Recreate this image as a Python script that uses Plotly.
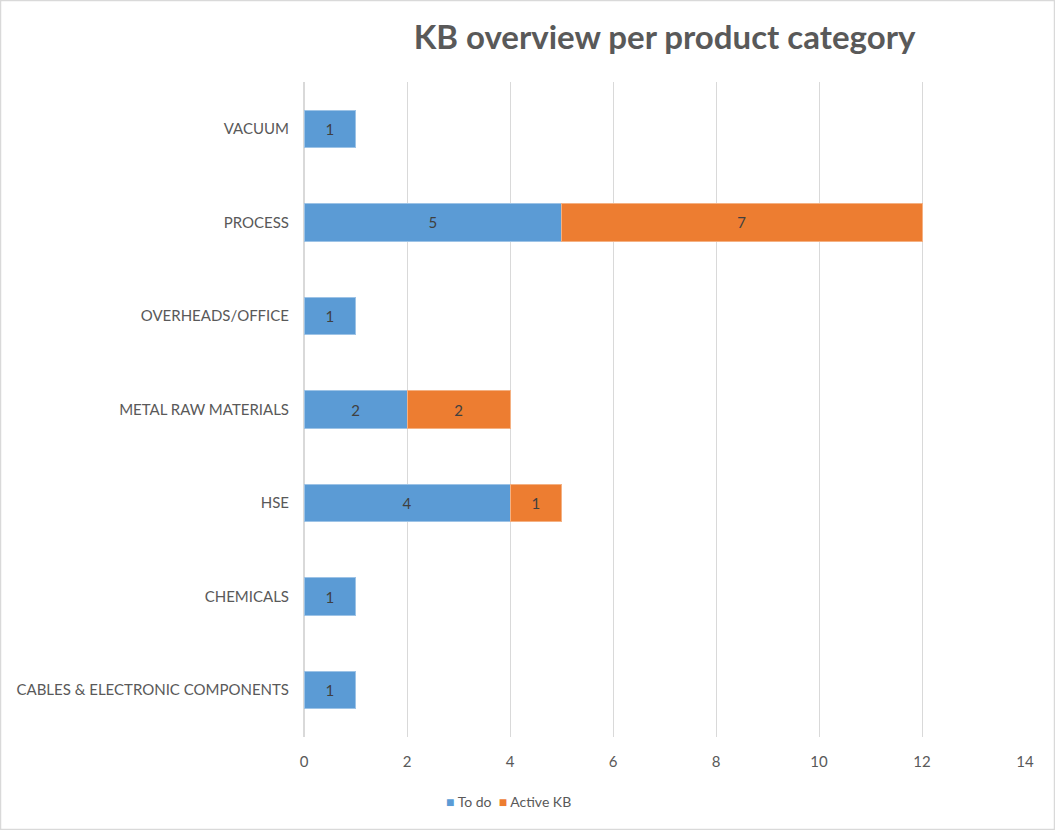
import plotly.graph_objects as go

categories = ["CABLES & ELECTRONIC COMPONENTS", "CHEMICALS", "HSE", "METAL RAW MATERIALS",
              "OVERHEADS/OFFICE", "PROCESS", "VACUUM"]
todo = [1, 1, 4, 2, 1, 5, 1]
active = [None, None, 1, 2, None, 7, None]
x_ticks = [0, 2, 4, 6, 8, 10, 12, 14]
series_names = ["To do", "Active KB"]
series_colors = ["#5B9BD5", "#ED7D31"]

W, H = 1055, 830
ML, MR, MT, MB = 304, 30, 82, 93
pw, ph = W - ML - MR, H - MT - MB

font = "Lato, 'Open Sans', sans-serif"
fig = go.Figure()
fig.add_trace(go.Bar(y=categories, x=todo, orientation="h", name=series_names[0],
                     marker=dict(color=series_colors[0], line=dict(color="#9DC3E6", width=1)),
                     text=todo, textposition="inside", insidetextanchor="middle",
                     textfont=dict(color="#404040", size=15, family=font)))
fig.add_trace(go.Bar(y=categories, x=active, orientation="h", name=series_names[1],
                     marker=dict(color=series_colors[1], line=dict(color="#F4B183", width=1)),
                     text=[("" if v is None else v) for v in active], textposition="inside",
                     insidetextanchor="middle",
                     textfont=dict(color="#404040", size=15, family=font)))

fig.update_layout(
    width=W, height=H, barmode="stack", bargap=0.6,
    margin=dict(l=ML, r=MR, t=MT, b=MB, pad=0),
    paper_bgcolor="white", plot_bgcolor="white",
    font=dict(family=font, color="#595959", size=15),
    title=dict(text="<b>KB overview per product category</b>", x=0.5, xref="paper",
               xanchor="center", y=1 - 37 / H, yanchor="middle",
               font=dict(size=33, color="#595959", family=font)),
    xaxis=dict(range=[0, 14], tickvals=x_ticks, showgrid=True, gridcolor="#D9D9D9",
               gridwidth=1, zeroline=True, zerolinecolor="#D9D9D9", showline=False,
               ticks="", ticklabelstandoff=14, tickfont=dict(size=15, color="#595959")),
    yaxis=dict(categoryorder="array", categoryarray=categories, showgrid=False,
               ticks="", ticklabelstandoff=14, showline=False,
               tickfont=dict(size=15, color="#595959")),
    showlegend=False,
)
legend_text = "&nbsp;&nbsp;".join(
    f"<span style='color:{c}'>■</span> {n}" for n, c in zip(series_names, series_colors))
fig.add_annotation(text=legend_text, xref="paper", yref="paper",
                   x=(444 - ML) / pw, xanchor="left", y=-(801 - MT - ph) / ph, yanchor="middle",
                   showarrow=False, font=dict(size=14, color="#595959", family=font))
# chart border
fig.add_shape(type="rect", xref="paper", yref="paper",
              x0=(0.5 - ML) / pw, x1=(W - 0.5 - ML) / pw,
              y0=1 + (MT - 0.5) / ph, y1=-(MB - 0.5) / ph,
              line=dict(color="#D9D9D9", width=1.5), layer="below")

fig.write_html("out.html", config={"displayModeBar": False},
               post_script="document.body.style.margin='0';document.body.style.overflow='hidden';")
